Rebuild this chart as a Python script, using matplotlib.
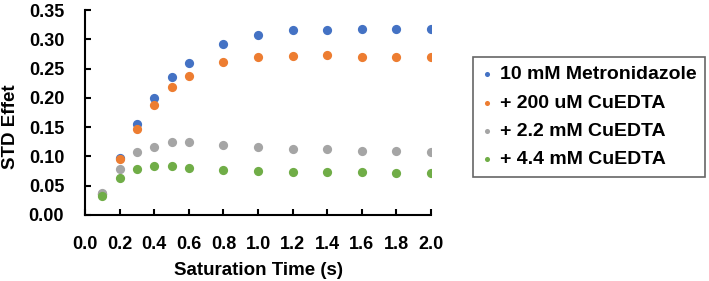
import matplotlib
matplotlib.use("Agg")
import matplotlib.pyplot as plt
from matplotlib.ticker import MultipleLocator, FormatStrFormatter

plt.rcParams['font.family'] = ['Liberation Sans', 'DejaVu Sans']
plt.rcParams['font.weight'] = 'bold'

time_s = [0.1, 0.2, 0.3, 0.4, 0.5, 0.6, 0.8, 1.0, 1.2, 1.4, 1.6, 1.8, 2.0]
metronidazole = [0.036, 0.098, 0.155, 0.200, 0.236, 0.260, 0.292, 0.307, 0.316, 0.316, 0.318, 0.317, 0.317]
cu_200uM = [0.035, 0.095, 0.147, 0.188, 0.218, 0.238, 0.261, 0.270, 0.272, 0.273, 0.270, 0.270, 0.269]
cu_2_2mM = [0.037, 0.079, 0.107, 0.116, 0.125, 0.124, 0.119, 0.116, 0.112, 0.112, 0.110, 0.110, 0.108]
cu_4_4mM = [0.032, 0.064, 0.079, 0.084, 0.083, 0.080, 0.077, 0.075, 0.073, 0.073, 0.073, 0.072, 0.071]

series = [
    ("10 mM Metronidazole", metronidazole, "#4472C4"),
    ("+ 200 uM CuEDTA", cu_200uM, "#ED7D31"),
    ("+ 2.2 mM CuEDTA", cu_2_2mM, "#A5A5A5"),
    ("+ 4.4 mM CuEDTA", cu_4_4mM, "#70AD47"),
]

TICK_FS = 13
TITLE_FS = 13.5
LEG_FS = 14
fig = plt.figure(figsize=(7.09, 2.81), dpi=100)
ax = fig.add_axes([0.1199, 0.2349, 0.488, 0.7295])

for label, vals, color in series:
    ax.scatter(time_s, vals, s=44, color=color, label=label, zorder=3, linewidths=0)

ax.set_xlim(0, 2.0)
ax.set_ylim(0, 0.35)
ax.xaxis.set_major_locator(MultipleLocator(0.2))
ax.yaxis.set_major_locator(MultipleLocator(0.05))
ax.xaxis.set_major_formatter(FormatStrFormatter('%.1f'))
ax.yaxis.set_major_formatter(FormatStrFormatter('%.2f'))

for side in ['top', 'right']:
    ax.spines[side].set_visible(False)
for side in ['left', 'bottom']:
    ax.spines[side].set_linewidth(1.5)
    ax.spines[side].set_color('black')

ax.tick_params(axis='both', direction='in', length=4, width=1.5, labelsize=TICK_FS)
ax.tick_params(axis='x', pad=15)
ax.tick_params(axis='y', pad=15)
for lab in ax.get_xticklabels() + ax.get_yticklabels():
    lab.set_fontweight('bold')

ax.set_xlabel("Saturation Time (s)", fontsize=TITLE_FS, fontweight='bold', labelpad=6.5)
ax.set_ylabel("STD Effet", fontsize=TITLE_FS, fontweight='bold')
ax.yaxis.set_label_coords(-0.19, 0.43)

leg = ax.legend(loc='upper left', bbox_to_anchor=(1.121, 0.771), frameon=True, fancybox=False,
                edgecolor='#404040', fontsize=LEG_FS, markerscale=0.55, handletextpad=0.35,
                borderpad=0.45, labelspacing=0.55, handlelength=0.6, borderaxespad=0)
leg.get_frame().set_linewidth(1.2)
for t in leg.get_texts():
    t.set_fontweight('bold')

fig.savefig("out.png", dpi=100)
